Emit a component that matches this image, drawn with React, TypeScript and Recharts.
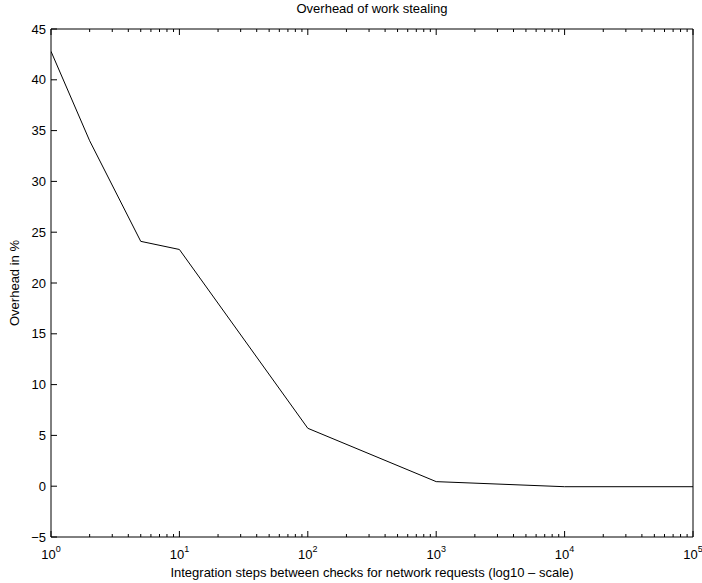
import React from 'react';
import { LineChart, Line, XAxis, YAxis } from 'recharts';

// integration steps between checks (log axis) and measured overhead in %
const steps = [1, 2, 5, 10, 100, 1000, 10000, 100000];
const overhead = [42.8, 34.0, 24.1, 23.3, 5.7, 0.45, -0.05, -0.05];

const xMajorTicks = [1, 10, 100, 1000, 10000, 100000];
const xExponents = ['0', '1', '2', '3', '4', '5'];
const yTicks = [-5, 0, 5, 10, 15, 20, 25, 30, 35, 40, 45];

const title = 'Overhead of work stealing';
const xTitle = 'Integration steps between checks for network requests (log10 \u2013 scale)';
const yTitle = 'Overhead in %';

const data = steps.map((s, i) => ({ steps: s, overhead: overhead[i] }));

// minor log ticks 2..9 inside each decade
const xAllTicks = xMajorTicks.flatMap((d, i) =>
  i === xMajorTicks.length - 1 ? [d] : [1, 2, 3, 4, 5, 6, 7, 8, 9].map((m) => d * m)
);

const W = 702;
const H = 583;
const FONT = '"Liberation Sans", Arial, Helvetica, sans-serif';

const tickLen = (v: number) => (xMajorTicks.indexOf(v) >= 0 ? 6 : 3);

const BottomTick = (props: any) => {
  const { x, y, payload } = props;
  const idx = xMajorTicks.indexOf(payload.value);
  return (
    <g>
      <line x1={x} x2={x} y1={y} y2={y - tickLen(payload.value)} stroke="#000" />
      {idx >= 0 && (
        <text x={x} y={y + 22} textAnchor="middle" fontSize={13} fontFamily={FONT} fill="#000">
          10
          <tspan dy={-7} fontSize={9}>
            {xExponents[idx]}
          </tspan>
        </text>
      )}
    </g>
  );
};

const TopTick = (props: any) => {
  const { x, y, payload } = props;
  return <line x1={x} x2={x} y1={y} y2={y + tickLen(payload.value)} stroke="#000" />;
};

const LeftTick = (props: any) => {
  const { x, y, payload } = props;
  const v = payload.value as number;
  return (
    <g>
      <line x1={x} x2={x + 6} y1={y} y2={y} stroke="#000" />
      <text x={x - 5} y={y} dy="0.35em" textAnchor="end" fontSize={13} fontFamily={FONT} fill="#000">
        {v < 0 ? '\u2212' + Math.abs(v) : String(v)}
      </text>
    </g>
  );
};

const RightTick = (props: any) => {
  const { x, y } = props;
  return <line x1={x} x2={x - 6} y1={y} y2={y} stroke="#000" />;
};

export default function App() {
  return (
    <div style={{ position: 'absolute', left: 0, top: 0, width: W, height: H, background: '#fff' }}>
      <LineChart width={W} height={H} data={data} margin={{ top: 0, right: 0, bottom: 0, left: 0 }}>
        <XAxis
          xAxisId="bottom"
          dataKey="steps"
          type="number"
          scale="log"
          domain={[1, 100000]}
          allowDataOverflow
          ticks={xAllTicks}
          interval={0}
          height={46}
          tickSize={0}
          tickMargin={0}
          tick={<BottomTick />}
          axisLine={{ stroke: '#000' }}
        />
        <XAxis
          xAxisId="top"
          orientation="top"
          dataKey="steps"
          type="number"
          scale="log"
          domain={[1, 100000]}
          allowDataOverflow
          ticks={xAllTicks}
          interval={0}
          height={29}
          tickSize={0}
          tickMargin={0}
          tick={<TopTick />}
          axisLine={{ stroke: '#000' }}
        />
        <YAxis
          yAxisId="left"
          type="number"
          domain={[-5, 45]}
          ticks={yTicks}
          interval={0}
          width={51}
          tickSize={0}
          tickMargin={0}
          tick={<LeftTick />}
          axisLine={{ stroke: '#000' }}
        />
        <YAxis
          yAxisId="right"
          orientation="right"
          type="number"
          domain={[-5, 45]}
          ticks={yTicks}
          interval={0}
          width={9}
          tickSize={0}
          tickMargin={0}
          tick={<RightTick />}
          axisLine={{ stroke: '#000' }}
        />
        <Line
          xAxisId="bottom"
          yAxisId="left"
          type="linear"
          dataKey="overhead"
          stroke="#000"
          strokeWidth={1}
          dot={false}
          isAnimationActive={false}
        />
      </LineChart>
      <svg
        width={W}
        height={H}
        style={{ position: 'absolute', left: 0, top: 0, pointerEvents: 'none' }}
        fontFamily={FONT}
        fontSize={13}
      >
        <text x={372} y={13} textAnchor="middle" fill="#000">
          {title}
        </text>
        <text x={372} y={577} textAnchor="middle" fill="#000">
          {xTitle}
        </text>
        <text transform="translate(19,283) rotate(-90)" textAnchor="middle" fill="#000">
          {yTitle}
        </text>
      </svg>
    </div>
  );
}
